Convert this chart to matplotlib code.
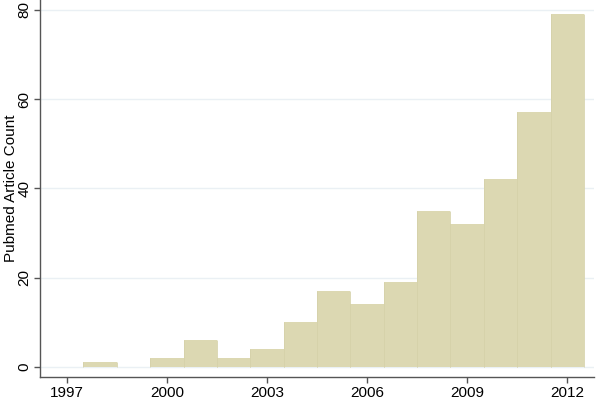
import matplotlib.pyplot as plt

# Pubmed article counts per year
years = [1998, 1999, 2000, 2001, 2002, 2003, 2004, 2005, 2006, 2007, 2008, 2009, 2010, 2011, 2012]
counts = [1, 0, 2, 6, 2, 4, 10, 17, 14, 19, 35, 32, 42, 57, 79]
xticks = [1997, 2000, 2003, 2006, 2009, 2012]
yticks = [0, 20, 40, 60, 80]

plt.rcParams['font.family'] = ['Liberation Sans', 'DejaVu Sans']

fig = plt.figure(figsize=(5.96, 4), dpi=100)
ax = fig.add_axes([40 / 596, 23 / 400, 554 / 596, 377 / 400])

bar_color = '#dcd8b2'
ax.bar(years, counts, width=1.0, color=bar_color, edgecolor='none', zorder=2)
# faint separators between neighbouring bars
for y, c in zip(years, counts):
    if c > 0:
        ax.vlines([y - 0.5, y + 0.5], 0, c, color='#d6d2aa', linewidth=0.6, zorder=3)

ax.set_xlim(1996.2, 2012.8)
ax.set_ylim(-2.25, 82.2)
ax.set_xticks(xticks)
ax.set_yticks(yticks)
ax.set_yticklabels([str(v) for v in yticks], rotation=90, va='center')
ax.tick_params(axis='both', labelsize=11, colors='#555555', labelcolor='black', length=4.3, width=1, pad=2)
ax.grid(axis='y', color='#eaf0f4', linewidth=1, zorder=0)
ax.set_axisbelow(True)

for side in ['top', 'right']:
    ax.spines[side].set_visible(False)
for side in ['left', 'bottom']:
    ax.spines[side].set_color('#555555')
    ax.spines[side].set_linewidth(1)

ax.set_ylabel('Pubmed Article Count', fontsize=11)
ax.yaxis.set_label_coords(-22 / 554, 0.5)

fig.savefig('out.png', dpi=100)
